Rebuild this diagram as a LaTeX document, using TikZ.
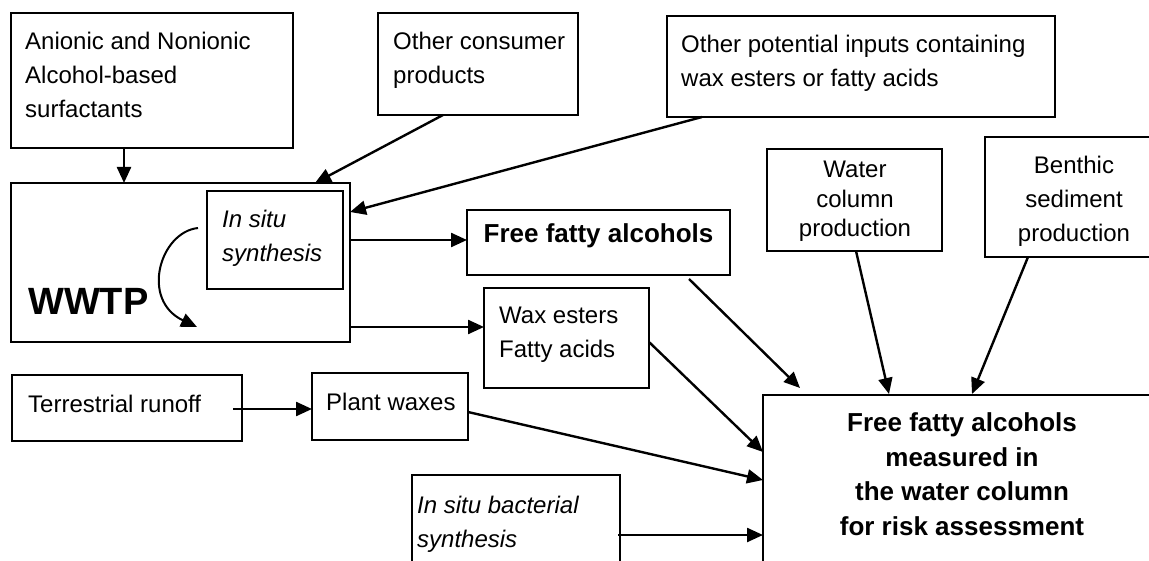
\documentclass[tikz,border=0pt]{standalone}
\usepackage{fontspec}
\setmainfont{Liberation Sans}
\usetikzlibrary{arrows.meta}
\begin{document}
\begin{tikzpicture}[x=1pt,y=-1pt,
  box/.style={draw, line width=2pt, inner sep=0pt, outer sep=0pt, anchor=north west},
  txt/.style={font=\fontsize{24}{34}\selectfont, inner sep=0pt, anchor=base west, align=left},
  itxt/.style={txt, font=\itshape\fontsize{24}{34}\selectfont},
  ctxt/.style={font=\fontsize{24}{34}\selectfont, inner sep=0pt, anchor=base, align=center},
  btxt/.style={font=\bfseries\fontsize{26}{34.5}\selectfont, inner sep=0pt, anchor=base, align=center},
  link/.style={line width=2.4pt, -{Triangle[length=16pt,width=14pt]}},
]
\useasboundingbox (0,0) rectangle (1149,561);
\clip (0,0) rectangle (1149,561);

% boxes
\node[box, minimum width=282pt, minimum height=135pt] (anionic)   at (11,13)  {};
\node[box, minimum width=200pt, minimum height=102pt] (consumer)  at (378,13) {};
\node[box, minimum width=388pt, minimum height=101pt] (potential) at (667,16) {};
\node[box, minimum width=339pt, minimum height=159pt] (wwtp)      at (11,183) {};
\node[box, minimum width=136pt, minimum height=98pt]  (insitu)    at (207,191) {};
\node[box, minimum width=263pt, minimum height=65pt]  (ffa)       at (467,210) {};
\node[box, minimum width=165pt, minimum height=100pt] (wax)       at (484,288) {};
\node[box, minimum width=175pt, minimum height=102pt] (water)     at (767,149) {};
\node[box, minimum width=180pt, minimum height=120pt] (benthic)   at (985,137) {};
\node[box, minimum width=230pt, minimum height=66pt]  (terr)      at (12,375) {};
\node[box, minimum width=156pt, minimum height=67pt]  (plant)     at (312,373) {};
\node[box, minimum width=208pt, minimum height=110pt] (bact)      at (412,475) {};
\node[box, minimum width=400pt, minimum height=190pt] (big)       at (763,395) {};

% texts (each placed by the baseline of its last line)
\node[txt]  (t-anionic)   at (25,118)  {Anionic and Nonionic\\Alcohol-based\\surfactants};
\node[txt]  (t-consumer)  at (393,84) {Other consumer\\products};
\node[txt]  (t-potential) at (681,87) {Other potential inputs containing\\wax esters or fatty acids};
\node[itxt] (t-insitu)    at (222,262) {In situ\\synthesis};
\node[txt, font=\bfseries\fontsize{38}{40}\selectfont] (t-wwtp) at (28,315) {WWTP};
\node[btxt] (t-ffa)       at (598.5,243) {Free fatty alcohols};
\node[txt]  (t-wax)       at (499,358) {Wax esters\\Fatty acids};
\node[ctxt, font=\fontsize{24}{29.5}\selectfont] (t-water) at (855,237) {Water\\column\\production};
\node[ctxt] (t-benthic)   at (1074,242) {Benthic\\sediment\\production};
\node[txt]  (t-terr)      at (28,412) {Terrestrial runoff};
\node[txt]  (t-plant)     at (326,410) {Plant waxes};
\node[itxt] (t-bact)      at (417,547) {In situ bacterial\\synthesis};
\node[btxt] (t-big)       at (962,535) {Free fatty alcohols\\measured in\\the water column\\for risk assessment};

% connectors
\draw[link] ([xshift=113pt]anionic.south west) -- ([xshift=113pt]wwtp.north west);
\draw[link] ([xshift=65pt]consumer.south west) -- ([xshift=304pt]wwtp.north west);
\draw[link] ([xshift=35pt]potential.south west) -- ([yshift=-29pt]wwtp.north east);
\draw[link] ([yshift=-57pt]wwtp.north east) -- ([yshift=-30pt]ffa.north west);
\draw[link] ([yshift=15pt]wwtp.south east) -- ([yshift=-39pt]wax.north west);
\draw[link] ([xshift=222pt,yshift=-4pt]ffa.south west) -- ([xshift=37pt,yshift=7pt]big.north west);
\draw[link] ([yshift=-54pt]wax.north east) -- ([yshift=-57pt]big.north west);
\draw[link] ([yshift=-39pt]plant.north east) -- ([yshift=-85pt]big.north west);
\draw[link] ([xshift=-9pt,yshift=-34pt]terr.north east) -- ([yshift=-36pt]plant.north west);
\draw[link] ([xshift=-2pt,yshift=-60pt]bact.north east) -- ([yshift=-140pt]big.north west);
\draw[link] ([xshift=89pt]water.south west) -- ([xshift=126pt,yshift=1pt]big.north west);
\draw[link] ([xshift=43pt]benthic.south west) -- ([xshift=209pt,yshift=1pt]big.north west);

% recycling loop inside the plant
\coordinate (loopa) at (198,228);
\coordinate (loopb) at (197,327);
\draw[link, line width=2pt] (loopa) .. controls (160,232) and (140,300) .. (loopb);
\end{tikzpicture}
\end{document}
